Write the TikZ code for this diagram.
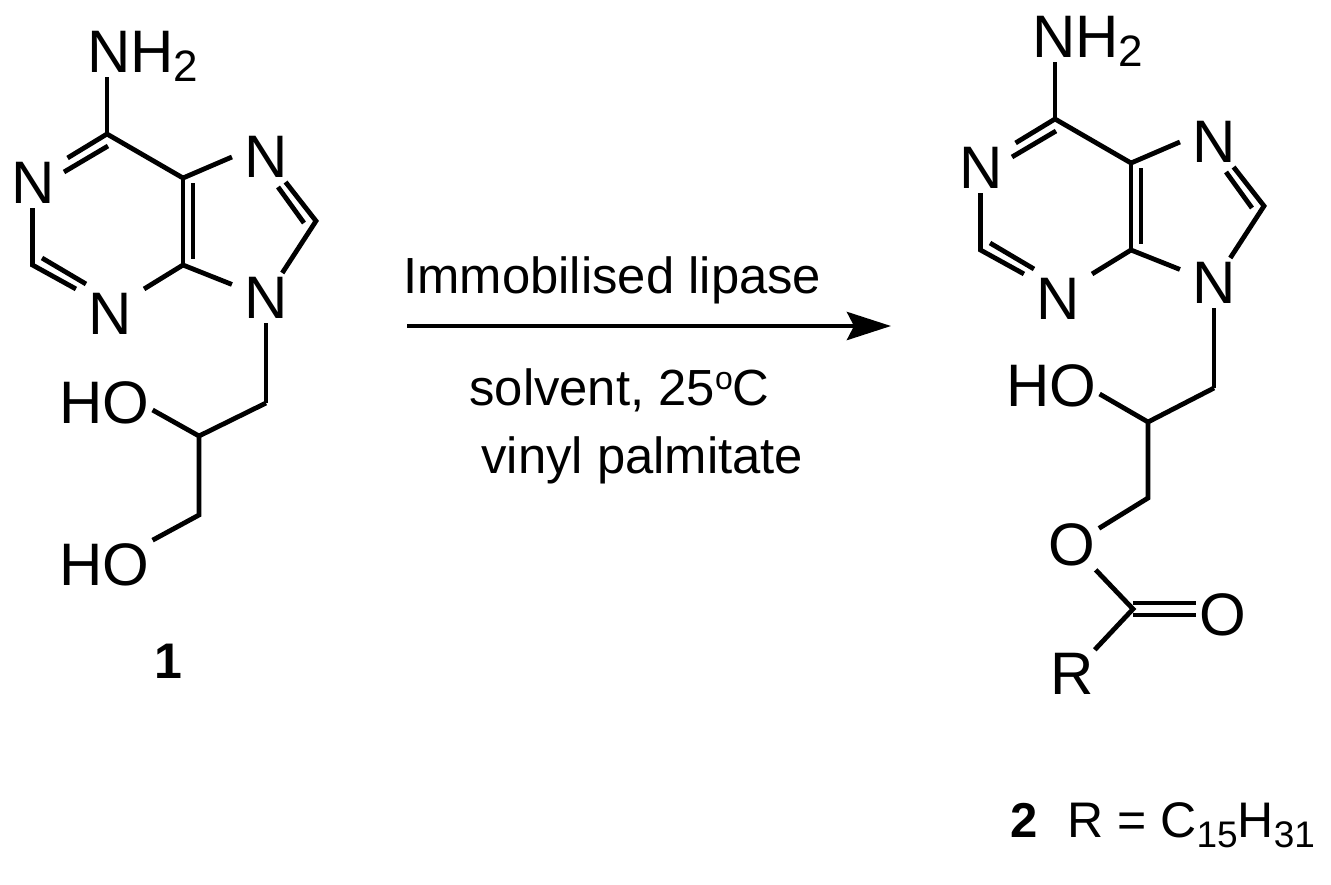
\documentclass[tikz,border=0pt]{standalone}
\usepackage{fontspec}
\setmainfont{Liberation Sans}
\usetikzlibrary{calc}
\usetikzlibrary{arrows.meta}
\usetikzlibrary{positioning}

\begin{document}
\begin{tikzpicture}[x=0.5pt,y=-0.5pt,line width=2.4pt]
    \tikzstyle{atom}=[font=\fontsize{30}{32}\selectfont,inner xsep=5pt,inner ysep=1pt]
    \tikzstyle{tight}=[atom,inner sep=0.6pt]
    \tikzstyle{plain}=[inner sep=0pt,anchor=base west]
    \tikzstyle{cond}=[plain,font=\fontsize{25.4}{27}\selectfont]
    \tikzstyle{lab}=[plain,font=\fontsize{25}{26}\selectfont]

    \useasboundingbox (0,0) rectangle (1331,884);

    \newcommand{\lowsub}[3]{\raisebox{#2}{\fontsize{#1}{#1}\selectfont #3}}

    % ring system, with the N substituent stub
    \newcommand{\purine}[4]{%
    \begin{scope}[shift={(#2,#3)}]
      \node[atom] (#1nn) at (109+#4,52) {N} ;
      \node[plain,font=\fontsize{30}{32}\selectfont] (#1hh) at ([xshift=-7.5pt]#1nn.base east) {H\lowsub{22}{-4.5pt}{2}} ;
      \node[atom] (#1n1) at (33.5,183) {N} ;
      \node[atom] (#1n3) at (110,314) {N} ;
      \node[atom] (#1n7) at (266,157) {N} ;
      \node[atom] (#1n9) at (266,298) {N} ;
      \coordinate (#1c2) at (32.5,265) ;
      \coordinate (#1c4) at (183,265) ;
      \coordinate (#1c5) at (183,178) ;
      \coordinate (#1c6) at (107,134) ;
      \coordinate (#1c8) at (316,221) ;
      \coordinate (#1a1) at (64,172) ;
      \coordinate (#1a2) at (108,146) ;
      \coordinate (#1b1) at (42,258) ;
      \coordinate (#1b2) at (86,284) ;
      \coordinate (#1d1) at (193,183) ;
      \coordinate (#1d2) at (193,259) ;
      \coordinate (#1e1) at (278,187) ;
      \coordinate (#1e2) at (304,223) ;
      \coordinate (#1c1p) at (266,403) ;

      \draw (#1c6) -- (#1c6 |- #1nn.south) ;
      \draw (#1c6) -- (#1n1.north east) ;
      \draw (#1a1) -- (#1a2) ;
      \draw[line join=miter] (#1c2 |- #1n1.south) -- (#1c2) -- (#1n3.north west) ;
      \draw (#1b1) -- (#1b2) ;
      \draw (#1n3.north east) -- (#1c4) ;
      \draw[line cap=rect] (#1c4) -- (#1c5) ;
      \draw (#1d1) -- (#1d2) ;
      \draw[line join=miter] (#1c6) -- (#1c5) -- (#1n7.west) ;
      \draw[line join=miter] (#1n7) -- (#1c8) -- (#1n9) ;
      \draw (#1e1) -- (#1e2) ;
      \draw (#1c4) -- (#1n9) ;
      \draw (#1n9) -- (#1c1p) ;
    \end{scope}}

    \purine{l}{0}{0}{0}
    \purine{r}{948}{-15}{-3}

    % left side chain
    \node[tight] (lho) at (104,403) {HO} ;
    \node[tight] (lhob) at (104,565) {HO} ;
    \coordinate (lc2p) at (199,436) ;
    \coordinate (lc3p) at (199,515) ;
    \draw[line join=miter] (lc1p) -- (lc2p) -- ([yshift=-3.5pt]lho.east) ;
    \draw[line join=miter] (lc2p) -- (lc3p) -- (lhob.north east) ;
    \node[plain,anchor=base,font=\bfseries\fontsize{25}{26}\selectfont] (one) at (168,678) {1} ;

    % right side chain
    \node[tight] (rho) at (1051,386) {HO} ;
    \node[tight] (rox) at (1072,545) {O} ;
    \node[tight] (rod) at (1223,615) {O} ;
    \node[tight] (rr) at (1072,674) {R} ;
    \coordinate (rc2p) at (1148,422) ;
    \coordinate (rc3p) at (1148,498) ;
    \coordinate (rco) at (1133,609) ;
    \draw[line join=miter] (rc1p) -- (rc2p) -- ([yshift=-4pt]rho.east) ;
    \draw[line join=miter] (rc2p) -- (rc3p) -- (rox) ;
    \draw[line join=miter] (rox) -- (rco) -- (rr) ;
    \draw ([yshift=3pt]rco) -- ([yshift=6pt]rod.west) ;
    \draw ([yshift=-3pt]rco) -- (rod.west) ;
    \node[plain,font=\bfseries\fontsize{24.5}{26}\selectfont] (two) at (1008,837) {2} ;
    \node[lab] (rdef) at (1065,837) {R = C\lowsub{18.5}{-5pt}{15}H\lowsub{18.5}{-5pt}{31}} ;

    % reaction arrow and conditions
    \coordinate (start) at (407,326) ;
    \coordinate (stop) at (891,326) ;
    \draw[-{Stealth[length=22pt,width=14pt,inset=3.5pt]}] (start) -- (stop) ;
    \node[cond] (lipase) at (401,293) {Immobilised lipase} ;
    \node[cond] (solvent) at (467,405) {solvent, 25\raisebox{8pt}{\fontsize{16}{16}\selectfont o}C} ;
    \node[cond] (vinyl) at (479,473) {vinyl palmitate} ;
\end{tikzpicture}
\end{document}
